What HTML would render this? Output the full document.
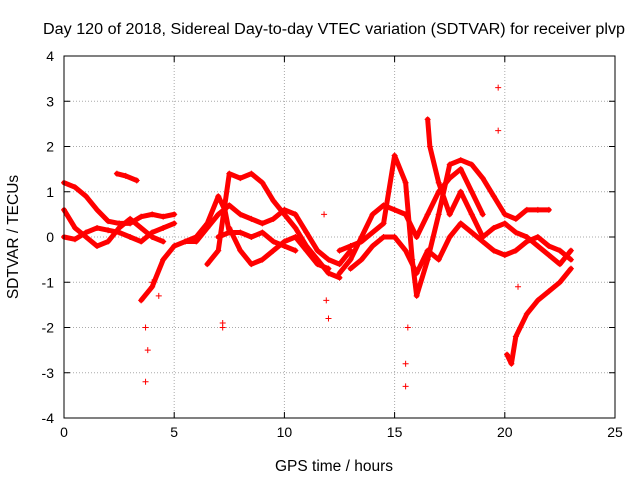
<!DOCTYPE html>
<html><head><meta charset="utf-8"><style>
body{margin:0;background:#fff;}
svg{font-family:"Liberation Sans",sans-serif;}
</style></head><body>
<svg id="chart" width="640" height="480" viewBox="0 0 640 480">
<text x="334" y="34" font-size="15.5" text-anchor="middle" textLength="582" lengthAdjust="spacingAndGlyphs">Day 120 of 2018, Sidereal Day-to-day VTEC variation (SDTVAR) for receiver plvp</text>
<g id="grid"></g>
<g id="axes"></g>
<g id="series"></g>
<rect x="64" y="56" width="551" height="362" fill="none" stroke="#000" stroke-width="1"/>
<text x="334" y="471" font-size="15.5" text-anchor="middle">GPS time / hours</text>
<text x="18" y="237" font-size="15.5" text-anchor="middle" transform="rotate(-90 18 237)">SDTVAR / TECUs</text>
</svg>
<script>
const xTicks=[0,5,10,15,20,25];
const yTicks=[-4,-3,-2,-1,0,1,2,3,4];
const trackA=[[0,1.2],[0.5,1.1],[1,0.9],[1.5,0.6],[2,0.35],[2.5,0.3],[3,0.3],[3.5,0.45],[4,0.5],[4.5,0.45],[5,0.5]];
const trackB=[[0,0.0],[0.5,-0.05],[1,0.1],[1.5,0.2],[2,0.15],[2.5,0.1],[3,0.0],[3.5,-0.1],[4,0.1],[4.5,0.2],[5,0.3]];
const trackC=[[0,0.6],[0.5,0.2],[1,0.0],[1.5,-0.2],[2,-0.1],[2.5,0.2],[3,0.4],[3.5,0.2],[4,0.0],[4.5,-0.1]];
const trackD=[[2.4,1.4],[2.8,1.35],[3.3,1.25]];
const trackE=[[3.5,-1.4],[4,-1.1],[4.5,-0.5],[5,-0.2],[5.5,-0.1],[6,0],[6.5,0.3],[7,0.9],[7.3,0.6],[7.5,0.1]];
const trackF=[[6.5,-0.6],[7,-0.3],[7.5,1.4],[8,1.3],[8.5,1.4],[9,1.2],[9.5,0.8],[10,0.5],[10.5,0.2],[11,-0.2],[11.5,-0.5],[12,-0.8],[12.5,-0.9]];
const trackG=[[7.5,0.2],[8,-0.3],[8.5,-0.6],[9,-0.5],[9.5,-0.3],[10,-0.1],[10.5,0],[11,-0.3],[11.5,-0.6],[12,-0.7]];
const trackH=[[5.5,-0.1],[6,-0.1],[6.5,0.2],[7,0.5],[7.5,0.7],[8,0.5],[8.5,0.4],[9,0.3],[9.5,0.4],[10,0.6],[10.5,0.5],[11,0.1],[11.5,-0.3],[12,-0.5],[12.5,-0.6],[13,-0.3]];
const trackI=[[7,0],[7.5,0.1],[8,0.1],[8.5,0],[9,0.1],[9.5,-0.1],[10,-0.2],[10.5,-0.3]];
const trackJ=[[12.5,-0.8],[13,-0.5],[13.5,0],[14,0.5],[14.5,0.7],[15,0.6],[15.5,0.5],[16,0],[16.5,0.5],[17,1.0],[17.5,1.3],[18,1.5],[18.5,1.0],[19,0.5]];
const trackK=[[12.5,-0.3],[13,-0.2],[13.5,-0.1],[14,0.1],[14.5,0.3],[15,1.8],[15.5,1.2],[15.8,-0.5],[16,-1.3],[16.5,-0.5],[17,0.5],[17.5,1.6],[18,1.7],[18.5,1.6],[19,1.3],[19.5,0.9],[20,0.5],[20.5,0.4],[21,0.6],[21.5,0.6],[22,0.6]];
const trackL=[[13,-0.7],[13.5,-0.5],[14,-0.2],[14.5,0],[15,0],[15.5,-0.3],[16,-0.8],[16.5,-0.3],[17,-0.5],[17.5,0],[18,0.3],[18.5,0.1],[19,-0.1],[19.5,-0.3],[20,-0.4],[20.5,-0.3],[21,-0.1],[21.5,0],[22,-0.2],[22.5,-0.3],[23,-0.5]];
const trackM=[[16.5,2.6],[16.6,2.0],[17,1.2],[17.5,0.5],[18,1.0],[18.5,0.5],[19,0],[19.5,0.2],[20,0.3],[20.5,0.1],[21,0],[21.5,-0.2],[22,-0.4],[22.5,-0.6],[23,-0.3]];
const trackN=[[20.1,-2.6],[20.3,-2.8],[20.5,-2.2],[21,-1.7],[21.5,-1.4],[22,-1.2],[22.5,-1.0],[23,-0.7]];
const outliers=[[3.7,-3.2],[3.7,-2.0],[3.8,-2.5],[4,-1.0],[4.3,-1.3],[7.2,-1.9],[7.2,-2.0],[11.8,0.5],[12,-1.8],[11.9,-1.4],[15.5,-3.3],[15.6,-2.0],[15.5,-2.8],[19.7,3.3],[19.7,2.35],[20.6,-1.1]];
const tracks=[trackA,trackB,trackC,trackD,trackE,trackF,trackG,trackH,trackI,trackJ,trackK,trackL,trackM,trackN];
const X0=64,X1=615,Y0=418,Y1=56;
const xs=v=>X0+(v-0)/25*(X1-X0);
const ys=v=>Y0-(v+4)/8*(Y0-Y1);
const NS="http://www.w3.org/2000/svg";
const grid=document.getElementById('grid'),axes=document.getElementById('axes'),ser=document.getElementById('series');
function mk(tag,attrs,parent){const e=document.createElementNS(NS,tag);for(const k in attrs)e.setAttribute(k,attrs[k]);parent.appendChild(e);return e;}
xTicks.forEach(t=>{
  const x=xs(t);
  if(t>0&&t<25){const g=mk('line',{x1:x,x2:x,y1:Y1,y2:Y0,stroke:'#aaa','stroke-dasharray':'1,2'},grid);
  
  }
  const tk=mk('path',{d:`M${x},${Y0}v-6M${x},${Y1}v6`,stroke:'#000'},axes);
  
  
  const l=mk('text',{x:x,y:Y0+19,'font-size':14,'text-anchor':'middle'},axes);l.textContent=t;
  
  
});
yTicks.forEach(t=>{
  const y=ys(t);
  if(t>-4&&t<4){const g=mk('line',{x1:X0,x2:X1,y1:y,y2:y,stroke:'#aaa','stroke-dasharray':'1,2'},grid);
  
  }
  const tk=mk('path',{d:`M${X0},${y}h6M${X1},${y}h-6`,stroke:'#000'},axes);
  
  
  const l=mk('text',{x:X0-10,y:y+5,'font-size':14,'text-anchor':'end'},axes);l.textContent=t;
  
  
});
function plus(x,y,c){
  const p=mk('path',{d:`M${x-3},${y}h6M${x},${y-3}v6`,stroke:c,'stroke-width':1},ser);
  
  
}
tracks.forEach(tr=>{
  const pl=mk('polyline',{points:tr.map(p=>xs(p[0])+','+ys(p[1])).join(' '),fill:'none',stroke:'#f00','stroke-width':5,'stroke-linejoin':'round','stroke-linecap':'round'},ser);
  
  
  tr.forEach(p=>plus(xs(p[0]),ys(p[1]),'#f00'));
});
outliers.forEach(p=>plus(xs(p[0]),ys(p[1]),'#f00'));
</script>
</body></html>
